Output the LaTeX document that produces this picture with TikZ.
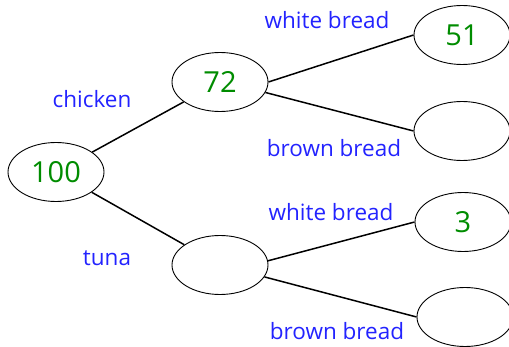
\documentclass[tikz,border=0pt]{standalone}
\usepackage{fontspec}
\setmainfont{Open Sans}
\usetikzlibrary{shapes.geometric}
\definecolor{lblblue}{RGB}{35,35,255}
\definecolor{numgreen}{RGB}{0,140,0}
\begin{document}
\begin{tikzpicture}[x=1pt,y=-1pt,
    state/.style={ellipse,draw,line width=0.9pt,minimum width=96pt,minimum height=59pt,inner sep=0pt,
      font=\fontsize{29}{31}\selectfont,text=numgreen},
    branch/.style={font=\fontsize{22.5}{25}\selectfont,text=lblblue,inner sep=0pt}]
    \useasboundingbox (0,0) rectangle (509,347);
    \node[state] (1) at (56,172) {100};
    \node[state] (2) at (220,82) {72};
    \node[state] (3) at (220,265) {};
    \node[state] (4) at (462,35) {51};
    \node[state] (5) at (462,131) {};
    \node[state] (6) at (463,222) {3};
    \node[state] (7) at (465,317) {};
    \node[branch] (a) at (92,99) {chicken};
    \node[branch] (b) at (107,258) {tuna};
    \node[branch] (c) at (327,20) {white bread};
    \node[branch] (d) at (334,148) {brown bread};
    \node[branch] (e) at (331,212) {white bread};
    \node[branch] (f) at (337,331) {brown bread};
    \draw[line width=1.5pt] (1) -- (2);
    \draw[line width=1.5pt] (1) -- (3);
    \draw[line width=1.5pt] (2.east) -- (4.west);
    \draw[line width=1.5pt] (2.-13) -- (5.west);
    \draw[line width=1.5pt] (3.5) -- (6.west);
    \draw[line width=1.5pt] (3.-15) -- (7.west);
  \end{tikzpicture}
\end{document}
